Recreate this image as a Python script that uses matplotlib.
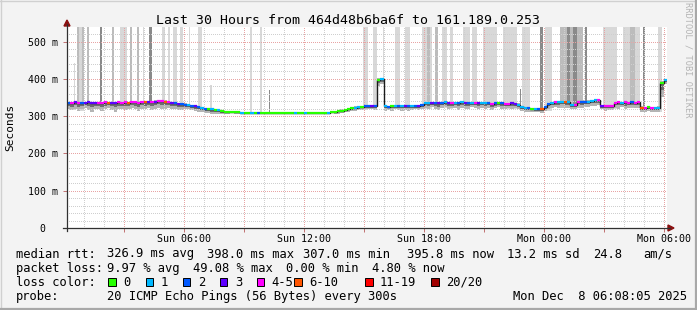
import matplotlib
matplotlib.use("Agg")
import matplotlib.pyplot as plt
import matplotlib.dates as mdates
from matplotlib.lines import Line2D
from matplotlib.patches import Rectangle, Polygon
from matplotlib.ticker import FixedLocator, MultipleLocator, FuncFormatter
from datetime import datetime, timedelta
import numpy as np

# ---------------- data ----------------
START = datetime(2025, 12, 7, 0, 8, 5)
END = datetime(2025, 12, 8, 6, 8, 5)
STEP_MIN = 10

median_ms = [
    336, 335, 337, 336, 335, 336, 337, 336, 335, 336,
    336, 337, 336, 335, 336, 337, 336, 337, 336, 337,
    337, 336, 337, 338, 337, 338, 339, 341, 340, 339,
    338, 336, 335, 333, 332,
    331, 330, 328, 326, 324, 322, 320, 319, 318, 317, 316, 314, 312,
    310, 310, 310, 310, 309, 309, 309, 309, 309, 309, 309, 309, 309, 309, 309, 309,
    309, 309, 309, 309, 309, 309, 309, 309, 309, 309, 309, 309, 309, 309, 309, 310,
    311, 313, 315, 317, 319, 321, 323, 324, 325, 326, 327, 328, 328,
    398, 400,
    326, 325, 327, 326, 328, 327, 326, 328, 327, 326, 328, 330,
    335, 334, 336, 335, 334, 336, 337, 335, 334, 336,
    335, 337, 336, 334, 335, 336, 335, 334, 336, 335,
    333, 334, 335, 334, 333, 332, 334, 333, 331,
    324, 322, 321, 320, 320, 319, 318,
    325, 332, 335,
    337, 338, 337, 338, 338,
    329, 330,
    338, 339, 338, 339,
    341, 342, 343,
    328, 327, 328, 327,
    336, 337, 336, 337, 336, 337, 336, 337,
    323, 322, 324, 321, 322, 323,
    390, 396,
]

# index into loss_labels / loss_colors
loss_idx = [
    2, 4, 3, 4, 2, 3, 3, 3, 3, 4,
    4, 4, 5, 3, 3, 4, 4, 4, 5, 4,
    4, 4, 4, 5, 3, 4, 3, 4, 4, 5,
    4, 3, 2, 3, 2,
    2, 1, 2, 3, 2, 1, 2, 0, 1, 0, 1, 0, 0,
    0, 0, 0, 0, 1, 0, 0, 1, 0, 2, 0, 0, 0, 0, 0, 0,
    0, 0, 0, 0, 1, 0, 0, 1, 0, 0, 0, 0, 0, 0, 1, 0,
    0, 0, 0, 0, 0, 0, 1, 1, 0, 2, 2, 3, 2,
    0, 1,
    1, 2, 0, 1, 2, 1, 3, 2, 1, 2, 3, 2,
    1, 1, 3, 2, 3, 2, 1, 3, 4, 1,
    2, 1, 3, 2, 1, 4, 3, 1, 1, 2,
    4, 2, 0, 2, 4, 4, 3, 3, 1,
    1, 1, 2, 0, 1, 2, 5,
    2, 2, 1,
    4, 1, 1, 5, 1,
    1, 4,
    4, 2, 2, 1,
    1, 1, 4,
    3, 4, 4, 4,
    4, 4, 1, 4, 4, 2, 4, 4,
    5, 4, 0, 4, 1, 1,
    0, 1,
]

smoke_low_ms = [
    318, 316, 320, 314, 318, 322, 316, 312, 318, 320,
    315, 318, 321, 317, 312, 319, 320, 316, 318, 322,
    319, 314, 320, 318, 321, 316, 320, 322, 318, 319,
    321, 318, 320, 317, 316,
    320, 318, 317, 314, 312, 310, 308, 308, 306, 306, 305, 305, 305,
    307, 308, 307, 307, 306, 307, 307, 307, 306, 307, 307, 307, 307, 306, 307, 307,
    307, 307, 306, 307, 307, 307, 307, 307, 306, 307, 307, 307, 307, 307, 306, 308,
    305, 307, 309, 310, 312, 314, 315, 316, 316, 318, 318, 318, 317,
    380, 385,
    315, 316, 314, 318, 316, 315, 317, 314, 316, 318, 317, 319,
    322, 318, 324, 320, 316, 322, 325, 319, 321, 323,
    317, 322, 320, 318, 324, 321, 319, 323, 320, 322,
    316, 321, 324, 319, 320, 322, 318, 321, 320,
    314, 312, 310, 312, 310, 311, 309,
    315, 320, 322,
    325, 322, 326, 323, 321,
    318, 320,
    326, 322, 325, 324,
    328, 327, 330,
    318, 315, 317, 316,
    322, 320, 324, 318, 322, 325, 321, 323,
    312, 310, 313, 311, 312, 310,
    350, 385,
]

# high-latency smoke columns (hours after START), top value and shade level
spike_start_h = [0.325, 0.475, 0.575, 0.75, 1.0, 1.65, 2.25, 2.65, 3.15, 3.5,
                 3.8, 4.1, 4.75, 5.05, 5.3, 5.65, 6.1, 6.55, 7.15, 9.15,
                 9.65, 10.1, 14.8, 15.3, 15.8, 16.4, 16.9, 17.75, 18.0, 18.4,
                 18.75, 19.15, 19.8, 20.25, 20.8, 21.8, 22.65, 22.75, 23.65, 23.9,
                 24.65, 25.0, 25.3, 25.9, 26.8, 27.8, 28.15, 28.8, 29.55]
spike_end_h = [0.425, 0.575, 0.85, 0.825, 1.1, 1.765, 2.325, 3.0, 3.25, 3.575,
               3.85, 4.25, 4.9, 5.15, 5.5, 5.8, 6.15, 6.75, 7.25, 9.25,
               9.75, 10.15, 15.05, 15.5, 15.85, 16.65, 17.15, 18.25, 18.15, 18.55,
               19.0, 19.3, 20.15, 20.5, 21.5, 22.5, 22.7, 23.15, 23.8, 24.25,
               25.8, 25.15, 25.5, 26.0, 27.5, 28.65, 28.4, 28.9, 29.75]
spike_top_ms = [442, 540, 540, 540, 540, 540, 540, 540, 540, 540,
                540, 540, 540, 540, 540, 540, 540, 540, 383, 540,
                540, 370, 540, 540, 540, 540, 540, 540, 540, 540,
                540, 540, 540, 540, 540, 540, 372, 540, 540, 540,
                540, 540, 540, 540, 540, 540, 540, 540, 540]
spike_shade = [0, 1, 0, 1, 1, 2, 1, 0, 1, 1,
               0, 2, 0, 0, 0, 0, 0, 0, 0, 0,
               0, 2, 0, 0, 0, 0, 0, 0, 1, 1,
               0, 0, 0, 0, 0, 0, 2, 0, 2, 0,
               1, 2, 2, 2, 0, 0, 1, 2, 0]

loss_labels = ["0", "1", "2", "3", "4-5", "6-10", "11-19", "20/20"]
loss_colors = ["#26ff00", "#00b8ff", "#0059ff", "#5e00ff",
               "#ff00ff", "#ff5500", "#ff0000", "#a10000"]

y_ticks = [0, 100, 200, 300, 400, 500]
y_tick_labels = ["0  ", "100 m", "200 m", "300 m", "400 m", "500 m"]
x_tick_times = [datetime(2025, 12, 7, 6), datetime(2025, 12, 7, 12),
                datetime(2025, 12, 7, 18), datetime(2025, 12, 8, 0),
                datetime(2025, 12, 8, 6)]
x_tick_labels = ["Sun 06:00", "Sun 12:00", "Sun 18:00", "Mon 00:00", "Mon 06:00"]

title = "Last 30 Hours from 464d48b6ba6f to 161.189.0.253"
rtt_stats = ["326.9 ms avg", "398.0 ms max", "307.0 ms min",
             "395.8 ms now", "13.2 ms sd", "24.8", "am/s"]
loss_stats = ["9.97 % avg", "49.08 % max", "0.00 % min", "4.80 % now"]
probe_text = "20 ICMP Echo Pings (56 Bytes) every 300s"
stamp_text = "Mon Dec  8 06:08:05 2025"

# ---------------- layout / style ----------------
W, H = 697, 310
MONO = "DejaVu Sans Mono"
BG = "#f3f3f3"
SHADES = ["#d8d8d8", "#bcbcbc", "#8a8a8a"]
GRID_MAJOR = "#e8a4a4"
GRID_MINOR = "#cfcfcf"
AXIS_C = "#303030"
ARROW_C = "#8b1010"
SMOKE_ABOVE = 3

def fx(px):
    return px / W

def fy(py):
    return 1 - py / H

fig = plt.figure(figsize=(W / 100, H / 100), dpi=100)
fig.patch.set_facecolor(BG)

PL, PR, PT, PB = 67, 667, 27, 228
ax = fig.add_axes([fx(PL), fy(PB), (PR - PL) / W, (PB - PT) / H])
ax.set_facecolor("white")
for s in ax.spines.values():
    s.set_visible(False)

n = len(median_ms)
edges = mdates.date2num([START + timedelta(minutes=STEP_MIN * k) for k in range(n + 1)])
med = np.array(median_ms, float)
low = np.array(smoke_low_ms, float)

# smoke columns
for s0, s1, top, shade in zip(spike_start_h, spike_end_h, spike_top_ms, spike_shade):
    t0 = mdates.date2num(START + timedelta(hours=s0))
    t1 = mdates.date2num(START + timedelta(hours=s1))
    k = min(int(s0 * 60 / STEP_MIN), n - 1)
    base = low[k]
    ax.bar(t0, top - base, bottom=base, width=t1 - t0, align="edge",
           color=SHADES[shade], linewidth=0, zorder=1)

# smoke around median
med_e = np.append(med, med[-1])
low_e = np.append(low, low[-1])
ax.fill_between(edges, low_e, med_e + SMOKE_ABOVE, step="post",
                color="#b4b4b4", linewidth=0, zorder=2)
mid_e = med_e - (med_e - low_e) * 0.5
ax.fill_between(edges, mid_e, med_e + 1.5, step="post",
                color="#6e6e6e", linewidth=0, zorder=2.1)

# median line, coloured by loss
ax.stairs(med, edges, baseline=None, color="#1a1a1a", linewidth=1.0, zorder=4)
ax.hlines(med, edges[:-1], edges[1:], colors=[loss_colors[k] for k in loss_idx],
          linewidth=1.6, zorder=5)

# axes scales
ax.set_xlim(edges[0], edges[-1])
ax.set_ylim(0, 539)

tick_lookup = {round(mdates.date2num(t), 6): lab for t, lab in zip(x_tick_times, x_tick_labels)}
ax.xaxis.set_major_locator(mdates.HourLocator(byhour=range(0, 24, 3)))
ax.xaxis.set_minor_locator(mdates.HourLocator(interval=1))
ax.xaxis.set_major_formatter(FuncFormatter(lambda v, p: tick_lookup.get(round(v, 6), "")))
ax.yaxis.set_major_locator(FixedLocator(y_ticks))
ax.set_yticklabels(y_tick_labels)
ax.yaxis.set_minor_locator(MultipleLocator(20))

ax.set_axisbelow(False)
ax.grid(which="minor", color=GRID_MINOR, linewidth=0.72, linestyle=(0, (1, 2)),
        antialiased=False)
ax.grid(which="major", color=GRID_MAJOR, linewidth=0.72, linestyle=(0, (1, 2)),
        antialiased=False)
ax.tick_params(which="minor", length=0)
ax.tick_params(axis="x", which="major", length=3, width=0.7, color="#c07070",
               labelsize=7.2, pad=1.5, labelcolor="#000000")
ax.tick_params(axis="y", which="major", length=3, width=0.7, color="#c07070",
               labelsize=7.1, pad=3.2, labelcolor="#000000")
for lab in ax.get_xticklabels() + ax.get_yticklabels():
    lab.set_family(MONO)

# axis lines and arrows
fig.add_artist(Line2D([fx(63), fx(670)], [fy(PB), fy(PB)], color=AXIS_C, linewidth=0.9))
fig.add_artist(Line2D([fx(PL), fx(PL)], [fy(PB + 3), fy(24)], color=AXIS_C, linewidth=0.9))
fig.add_artist(Polygon([(fx(PL - 3), fy(26)), (fx(PL + 3), fy(26)), (fx(PL), fy(20))],
                       closed=True, color=ARROW_C, transform=fig.transFigure))
fig.add_artist(Polygon([(fx(668), fy(PB - 3)), (fx(668), fy(PB + 3)), (fx(674), fy(PB))],
                       closed=True, color=ARROW_C, transform=fig.transFigure))

# texts
fig.text(fx(348.5), fy(24), title, ha="center", va="baseline", family=MONO, size=9.5)
fig.text(fx(10), fy(127), "Seconds", ha="center", va="center", rotation=90,
         family=MONO, size=8)
fig.text(fx(688), fy(60), "RRDTOOL / TOBI OETIKER", ha="center", va="center",
         rotation=270, family=MONO, size=6.2, color="#b4b4b4")

FS = 8.7
rows_y = [257.5, 271.8, 285.8, 300.0]
fig.text(fx(16), fy(rows_y[0]), "median rtt:", family=MONO, size=FS, va="baseline")
for txt, x in zip(rtt_stats, [107, 207, 303, 407, 507, 593, 643]):
    fig.text(fx(x), fy(rows_y[0]), txt, family=MONO, size=FS, va="baseline")
fig.text(fx(16), fy(rows_y[1]), "packet loss:", family=MONO, size=FS, va="baseline")
for txt, x in zip(loss_stats, [107, 193, 286, 372]):
    fig.text(fx(x), fy(rows_y[1]), txt, family=MONO, size=FS, va="baseline")
fig.text(fx(16), fy(rows_y[2]), "loss color:", family=MONO, size=FS, va="baseline")
box_x = [108, 145.5, 182.7, 220, 256.7, 294, 365, 431]
for bx, lab, col in zip(box_x, loss_labels, loss_colors):
    fig.add_artist(Rectangle((fx(bx), fy(286)), 7.5 / W, 8.5 / H, transform=fig.transFigure,
                             facecolor=col, edgecolor="#000000", linewidth=0.7))
    fig.text(fx(bx + 15), fy(rows_y[2]), lab, family=MONO, size=FS, va="baseline")
fig.text(fx(16), fy(rows_y[3]), "probe:", family=MONO, size=FS, va="baseline")
fig.text(fx(107), fy(rows_y[3]), probe_text, family=MONO, size=FS, va="baseline")
fig.text(fx(513), fy(rows_y[3]), stamp_text, family=MONO, size=FS, va="baseline")

# frame
fig.add_artist(Line2D([0, 1], [fy(0.5), fy(0.5)], color="#d0d0d0", linewidth=1))
fig.add_artist(Line2D([fx(0.5), fx(0.5)], [0, 1], color="#d0d0d0", linewidth=1))
fig.add_artist(Line2D([0, 1], [fy(309), fy(309)], color="#a8a8a8", linewidth=1.6))
fig.add_artist(Line2D([fx(696), fx(696)], [0, 1], color="#a8a8a8", linewidth=1.6))

fig.savefig("out.png", dpi=100, facecolor=BG)
